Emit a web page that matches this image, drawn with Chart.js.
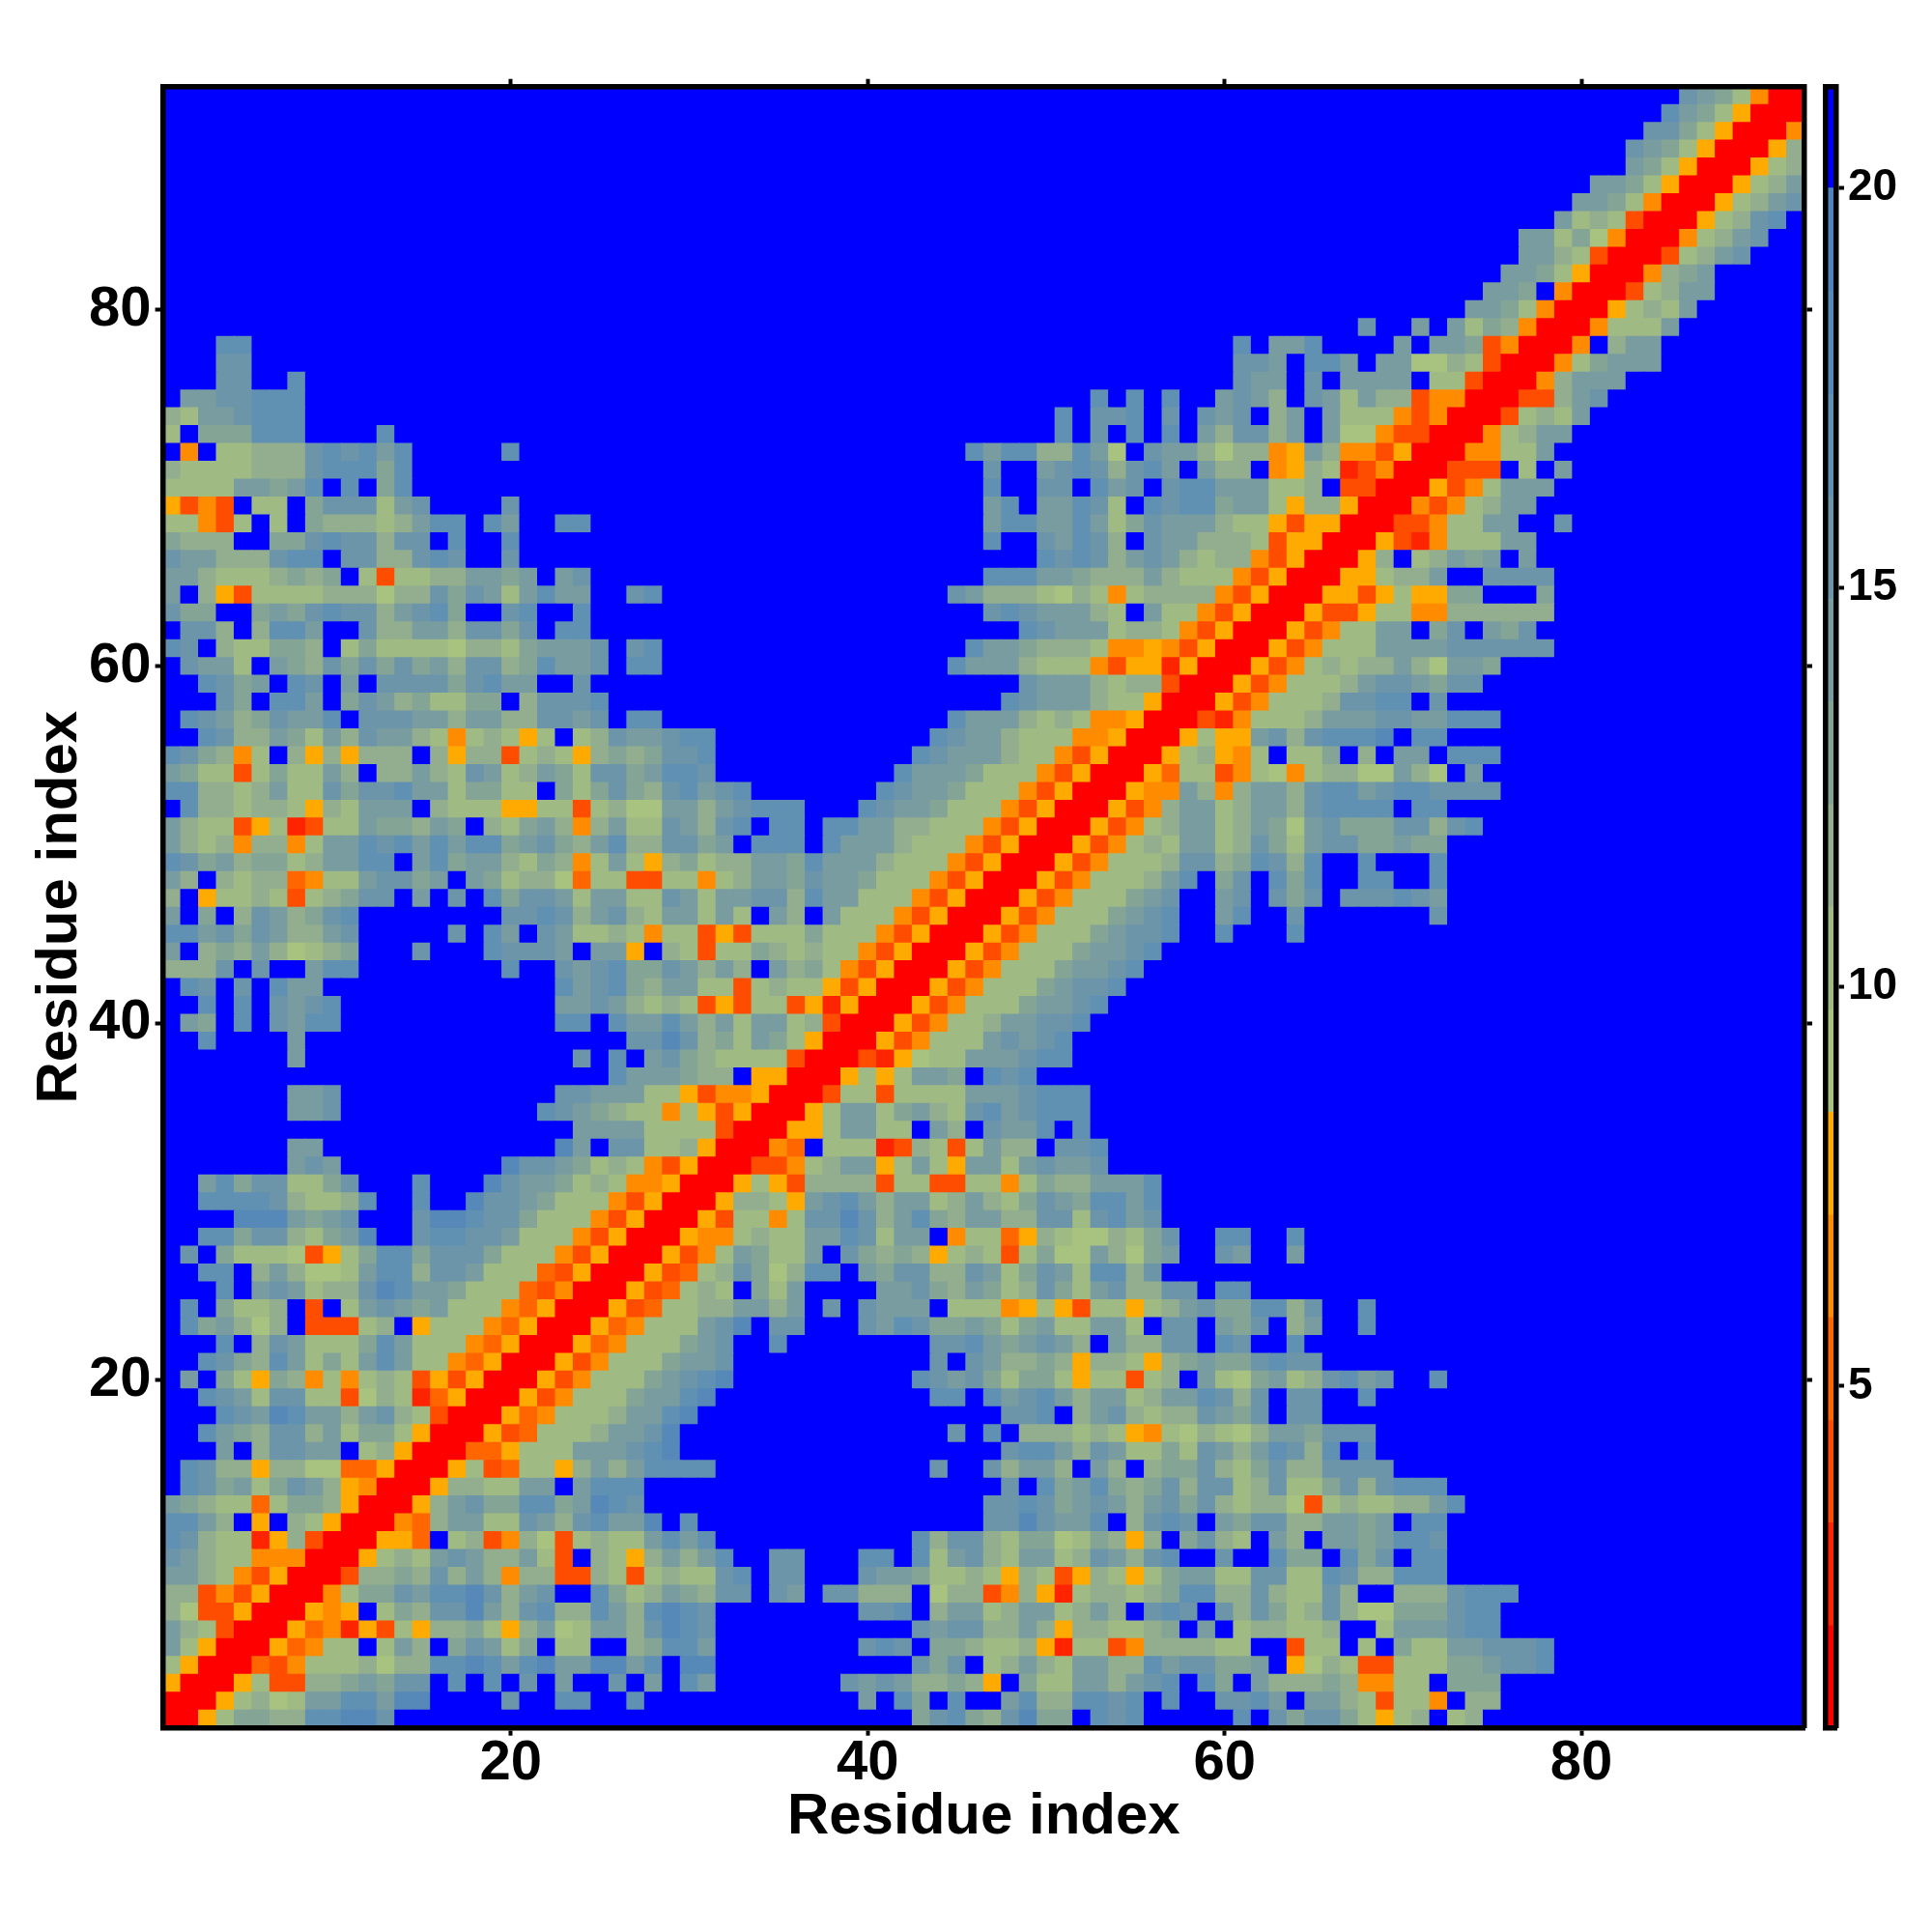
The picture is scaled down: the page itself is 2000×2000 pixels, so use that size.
<!DOCTYPE html>
<html>
<head>
<meta charset="utf-8">
<title>Residue distance map</title>
<script src="https://cdn.jsdelivr.net/npm/chart.js@4"></script>
<style>
  html, body { margin: 0; padding: 0; background: #fff; }
  #page { position: relative; width: 2000px; height: 2000px; }
  canvas { position: absolute; top: 0; }
  #mapChart { left: 0; }
  #barChart { left: 1870px; }
</style>
</head>
<body>
<div id="page">
  <canvas id="mapChart" width="2000" height="2000"></canvas>
  <canvas id="barChart" width="130" height="2000"></canvas>
</div>
<script>
// Distance bands of the colour bar
const bandEdges = [0.72, 2.0, 3.29, 4.57, 5.86, 7.14, 8.43, 9.71, 11.0, 12.28, 13.57, 14.85, 16.14, 17.42, 18.71, 20.0, 21.27];
const bandColors = ['#ff0000', '#ff2400', '#ff4d00', '#ff6600', '#ff8c00', '#ffaa00',
  '#a8c280', '#a0ba84', '#92ae8e', '#84a596', '#789ca0', '#6c95aa', '#6090b2', '#5688b8', '#5082be', '#0000ff'];
const bandCodes = '012345' + '6789abcde' + '.';

const mapTicks = [20, 40, 60, 80];
const barTicks = [5, 10, 15, 20];

// gap of cells beyond the cutoff (the plain blue ones)
const G = n => '.'.repeat(n);

// One string per row, top row (residue 92) first, one band code per residue.
// Rows shorter than 92 are blue to the right edge.
const matrixRows = [
  G(85) + 'ba97400',
  G(84) + 'ca975000',
  G(83) + 'bb9750004',
  G(82) + 'ba97500058',
  G(82) + 'a975000578',
  G(80) + 'aa975000578a',
  G(79) + 'aa974000578ab',
  G(78) + 'a7872000578bc',
  G(76) + 'aa7964000478ab',
  G(76) + 'aa872000278ab',
  G(75) + 'aa975000489a',
  G(74) + 'aa9.4000278aa',
  G(73) + 'aa9740005787a',
  G(67) + 'b..a.a79840004777a',
  '...cc' + G(55) + 'c.aac....a.aa9240004.8aa',
  '...bb' + G(55) + 'bba.cca.aa66872000479aaa',
  '...bb..c' + G(52) + 'baa.b.aaaa.77200048aaa',
  '.aabbccc' + G(44) + 'c.c.c..aba8.ba7a88244000228ab',
  '87aabccc' + G(42) + 'c.bbc.b.bab.8a.a7774240002787a',
  '7.999ccc....c' + G(37) + 'c.b.c.c.a8bb8a.a66422000478aa',
  '.4.77888bcbcac.....c' + G(25) + 'cacc88ca6.baa868845a844250004477a',
  '87777888bccc9c' + G(32) + 'b..abcb8bca.a88.4587124000222.7.a',
  '7777aa9ac.c.9c' + G(32) + 'c..bb.cab.bccaaa778.220005247aaa',
  '5242.77.9bbb7ab....b' + G(26) + 'ac.aacb7.cbcc9aa7588500042478aa',
  '77427.7.988878acc.ca..cc' + G(22) + 'accaaca79baaa877525500022477aa..b',
  '9888..99bcbb8bb.c..c' + G(26) + 'c..bacb8.baa88872550005214777aa',
  'baa888bcc.bb88bcb..b' + G(29) + 'cbcb8aba878842500058.78a9a.a',
  'aa87778989.727788aa9a.ab' + G(22) + 'cccaa9888a877742500055788a..bbbb',
  'a.8527777888688b9ba7acaa..bc' + G(16) + 'ba8887687478888425000552575599...9',
  'b99..9a9bcbb8abc9..bc..c' + G(22) + 'bcbaaa87.a7742500052257744888888',
  '.bb8.8cca..b88aa8bb9b.cc' + G(24) + 'cbaaa788742500052477aa.9b.a9b',
  'cb.877998.79777768879aaab.bc' + G(17) + 'caa98887445425000524777aaaabbbbbb',
  '.baa7.a98b9b9b9a8bb89caab.cc' + G(16) + 'caaa877742551500052478788a86aa9',
  '..cb9a.cb.a.bbbb9bcaa..b' + G(24) + 'baaa878820005247778abba9bb',
  '...b9.cca.9ba897799.8bbbc' + G(22) + 'cbaaa87750005247778bbcc.b',
  '.cba89baac.bbbaa8aa88bbab.cc' + G(16) + 'caaa87874450002147778aaabbaaccc',
  '..cb88a97a8baa87478757.78baabcc' + G(12) + 'cbaa87774450005755ab8bcccd.cc',
  'cb9847.8585888.8588278758989bbc' + G(11) + 'cbaaa877425000578547.779.8.aa.ccc',
  'a97727977a8.88a87ba78a97bb9accb' + G(10) + 'caaa977742500053772476478866a86.a',
  'cc8878a77b9bbcaa79977.979b98bcabc' + G(7) + 'cbaa9777425000544a848aa8bccabccbbbb',
  '.c887887587aaa.8777557727866aa8abccc...cbaa977742500052' + '48aa78aa8bcccc.cc',
  'a8772571277a998a9.879a848a77ba8bc.cc.ccaa88777425000524' + '78aa78a96ab999bb8bc',
  'a87848847aacbcacacc9ab98ac88bb9a.ccc.caaa87774250005247' + '87aa78b97abb99a99',
  'cb9a89978aacc.ac9aa879847a7589788aa9caaa877742500052477' + '78bb89cb8c..c...c',
  'a8.87883477abb9a.a978863772277478aa9baa9777425000524777' + '8ac.9b.c9c..cc..c',
  '8.577872789bb.a.b.c9bba7aa77ba7aabb8caa7774250005247779' + 'ab..ab.b9b.bbbcba',
  'a.9.8ba89bc........bbcb8ab87aa7a7.a8.a7774250005247779a' + 'bc..ac..b.......b',
  'ccab9ba88ab.....b.ca.ba778747725277797774250005247779ab' + 'bc..c...c',
  'a.898a86789...b...cbbba.aa5.872779878774250005247779aab' + 'c',
  '888b.b..acc........c..babc99ba8a8.a8974250005247779aabc',
  '.cb.b.caa.' + G(10) + '..cabc98aa77278775250005247779abbc',
  '..c.c.babc' + G(10) + '..aaba87872527725150005247779aabc',
  '.a9.c.bacc' + G(10) + '..cc.caaca8a7aa782000524778aabbc',
  '..c....a..' + G(10) + '......bbdb897a975000524777ababc',
  '.......a..' + G(10) + '...b.c.ab9877772000215677aaabcc',
  G(25) + 'caaa988.550005757aa9.cbc',
  '.......aab' + G(10) + '..bbaaa775244500027727777aaabccc',
  '.......aab' + G(10) + '.cba98774752500057aa79a87bcabccc',
  G(23) + 'aaaa77772000557aa77.a8.baac.c',
  '.......aa.' + G(10) + '..da.bb778500043.777128727a88.bbc',
  '.......aba.........dbba978742500022478aa57a75aa7abaab',
  '..ac9bb779b...c...dbaa97874450005752888827722774798' + '8aaac',
  '..ccccb8778c..c..dbba977742500058875abca8aa78a879ba9ccac',
  '....ddda9ab...bddcbb9777425000527747bbdb8ac98aa88bb7bcab',
  '..cc9bb879ad..bccbba7774250005447877aacb7aa.477358766879b..cc..c',
  '.b.977762579cc9bbb97774250005247a977a.b9898578727966a869a..ba..a',
  '..cc.8a8667acc8bba77732500052378b968cc.a9bb88ba79ba7cc8b',
  '...c.aba788bdcaa9777324000523787.97a....aab98a978b97ab88bb.cc',
  '.c.9778.2.7aba9a7774350005237788aa8a.b.baaa.7774575277578ab99cc8b..c',
  '.c9a868.22278.5777435000534777abd.bb...bacb99a979a77aa7.bb.a9b.8a..c',
  '...c.8ba7779ca7774350005347779ab..c........bbca9aba8.a88bb.cb..c',
  '..cb98ca797aca774350005247779aab' + G(11) + 'b.ba88985887589a99bcbb',
  '.a.9759847478725250005247779abcd' + G(10) + 'cbab97997577278.a769a78bcab..c',
  '..cba7bb7726871350005247779aacd' + G(12) + 'cc.cabca8aa78aacb8b.bb..c',
  '...cbadcaa8ab8720005347778aacd' + G(17) + 'bbc.8ab8788ba9b.bb',
  '..ca98bb8a799750005237778aabd' + G(15) + 'b.c.88878754768768aa9bbb',
  '...a.8bbaa.785000335777aaabcd' + G(18) + 'bcca8ba7797ba8acb8c.c',
  '.cb885886633500057237758a8acccc' + G(12) + 'b..b8aa8.a8.899b879b88bbbb',
  '.cb9a79ba85400058877aa.accc' + G(20) + 'b.c9ac989b8bb78b779b8bccc',
  'a987737998500058ab99cc9adcb' + G(19) + 'bbcb9aba8ab9b878862787788ac',
  'cca8.5.875000438aa77ba8bcaad.c' + G(16) + 'bbdbaac.8bcb.a9bb88aa9a.cc',
  'cb8771582000553.78248627877acac' + G(11) + 'c8bb8799679858.9b87.a8.aa9accb',
  'ba8774440005787aba88a72.8758a8ac..bb...cc.c7ab87aa78ba8bc..b..c99.c9b.cc',
  'aa8742500028898b8a8488228727877bc.bb...baa977875872587579aa77bb77cb88ccc',
  '8824250004799baccdb8ab..c978a98bb.ba.bb888.68824851788789cc88b877b8..888bccc',
  '86225000545.798bbda8bc88ca8cdcb' + G(8) + 'bbc.8aa78aa78a8.bcb.b8b978b866999bcc',
  'a87200053415275889758a67aa8bdcb' + G(11) + 'babb88a85887789.a.788778..7aaabcc',
  'a7500053477.7a8.9ba79.77..89cca' + G(8) + 'bcb.998778517724888877..277.7.977aabbbc',
  '750003247778688ccdcacdaaddac.dd' + G(11) + 'b9b.78a87aa88cabb99a.56872277799abbc',
  '50005722889a9bb.c.c.b.a..b.a.ca' + G(7) + 'baba88985.977aa8abc.c9.a888984477.999',
  '00057867aaccadd....b..cc..c' + G(12) + 'a.c9.c..ac88ccbc.c..bbca.aa872774.88',
  '00579988ccddb' + G(29) + '9bc98bd99.cbc.....c.b9bb97578.78'
];

const residueCount = 92;
// middle of a band stands for the value of a cell
const bandValue = code => {
  const i = bandCodes.indexOf(code);
  return (bandEdges[i] + bandEdges[i + 1]) / 2;
};
const bandOf = v => bandEdges.findIndex((e, i) => v >= e && v < bandEdges[i + 1]);

const cells = [];
matrixRows.forEach((row, r) => {
  const full = row.padEnd(residueCount, '.');
  for (let c = 0; c < residueCount; c++) {
    cells.push({ x: c + 1, y: residueCount - r, v: bandValue(full[c]) });
  }
});

const boldFont = size => ({ family: '"Liberation Sans", Arial, sans-serif', weight: 'bold', size: size });
const blackBorder = { display: true, width: 5.5, color: '#000', z: 1 };
const tickGrid = { display: true, drawOnChartArea: false, drawTicks: true, tickLength: 8, tickWidth: 4, tickColor: '#000', color: '#000' };
const noTickGrid = { display: false, drawOnChartArea: false, drawTicks: false };

// Chart.js sets the axis sizes itself, these pin the plot box
const pinWidth = w => scale => { scale.width = w; };
const pinHeight = h => scale => { scale.height = h; };
const setTicks = list => scale => { scale.ticks = list.map(v => ({ value: v })); };

const mapAxis = (position, size, labels, tickPad, title) => ({
  type: 'linear',
  position: position,
  min: 0.5,
  max: residueCount + 0.5,
  afterBuildTicks: setTicks(mapTicks),
  afterFit: (position === 'left' || position === 'right') ? pinWidth(size) : pinHeight(size),
  border: blackBorder,
  grid: tickGrid,
  ticks: { display: labels, color: '#000', font: boldFont(58), maxRotation: 0, padding: tickPad, autoSkip: false },
  title: title
});

// half a pixel past the cell edge on each side closes the seams
const cellRadius = ctx => (ctx.chart.scales.x.width / residueCount / 2 + 0.5) * Math.SQRT2;

new Chart(document.getElementById('mapChart'), {
  type: 'scatter',
  data: {
    datasets: [{
      data: cells,
      xAxisID: 'x',
      yAxisID: 'y',
      pointStyle: 'rect',
      borderWidth: 0,
      pointRadius: cellRadius,
      pointHoverRadius: cellRadius,
      pointBackgroundColor: ctx => bandColors[bandOf(ctx.raw.v)]
    }]
  },
  options: {
    responsive: false,
    animation: false,
    events: [],
    layout: { padding: 0 },
    plugins: { legend: { display: false }, tooltip: { enabled: false } },
    scales: {
      x: mapAxis('bottom', 211.3, true, -6, { display: true, text: 'Residue index', color: '#000', font: boldFont(60), padding: { top: 83, bottom: 83 } }),
      y: mapAxis('left', 168.6, true, 4, { display: true, text: 'Residue index', color: '#000', font: boldFont(60), padding: { top: 26, bottom: 26 } }),
      xTop: mapAxis('top', 89.7, false, 0, { display: false }),
      yRight: mapAxis('right', 132, false, 0, { display: false })
    }
  }
});

new Chart(document.getElementById('barChart'), {
  type: 'bar',
  data: {
    labels: ['band'],
    datasets: bandColors.map((color, i) => ({
      data: [[bandEdges[i], bandEdges[i + 1]]],
      backgroundColor: color,
      borderWidth: 0,
      grouped: false,
      barPercentage: 1,
      categoryPercentage: 1
    }))
  },
  options: {
    responsive: false,
    animation: false,
    events: [],
    plugins: { legend: { display: false }, tooltip: { enabled: false } },
    scales: {
      x: { position: 'bottom', afterFit: pinHeight(211.3), border: blackBorder, grid: noTickGrid, ticks: { display: false } },
      xTop: { type: 'category', labels: ['band'], position: 'top', afterFit: pinHeight(89.7), border: blackBorder, grid: noTickGrid, ticks: { display: false } },
      yLeft: { type: 'linear', position: 'left', min: bandEdges[0], max: bandEdges[16], afterFit: pinWidth(19.5), border: blackBorder, grid: noTickGrid, ticks: { display: false } },
      y: {
        type: 'linear',
        position: 'right',
        min: bandEdges[0],
        max: bandEdges[16],
        afterBuildTicks: setTicks(barTicks),
        afterFit: pinWidth(99),
        border: blackBorder,
        grid: tickGrid,
        ticks: { color: '#000', font: boldFont(46), padding: 4, autoSkip: false }
      }
    }
  }
});
</script>
</body>
</html>
